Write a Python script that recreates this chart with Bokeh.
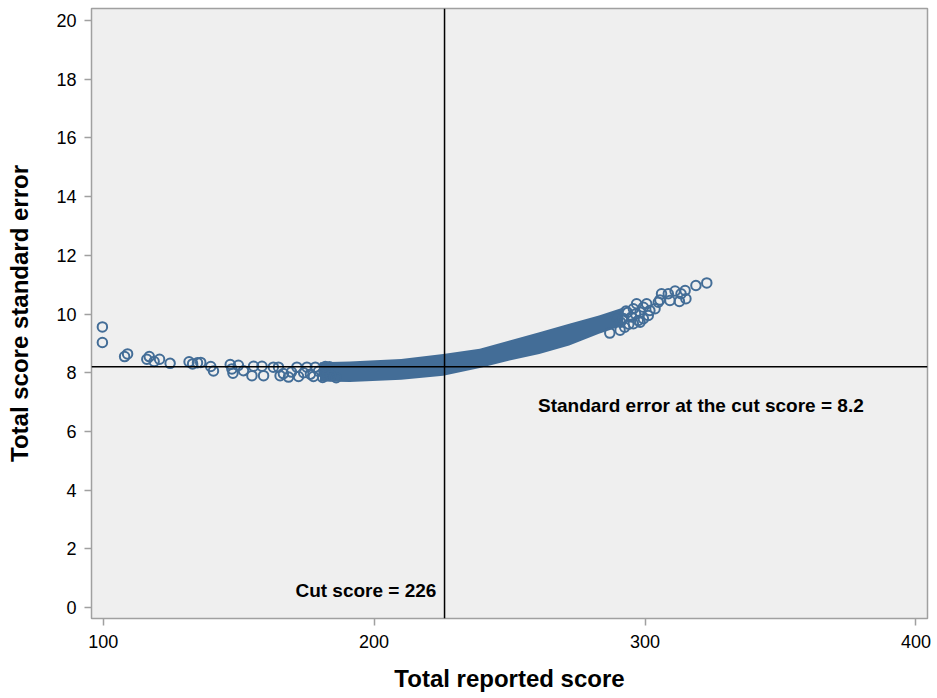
from bokeh.plotting import figure
from bokeh.models import Span, Range1d, FixedTicker, ColumnDataSource
from bokeh.core.properties import value
from bokeh.embed import file_html
from bokeh.resources import INLINE

# ---- data ----
# dense band of scores (edges of the solid region)
band_x = [180, 191, 210, 225.5, 239, 250, 261, 272, 283, 292]
band_top = [8.36, 8.38, 8.47, 8.64, 8.82, 9.10, 9.38, 9.67, 9.95, 10.22]
band_bottom = [7.70, 7.68, 7.76, 7.90, 8.16, 8.42, 8.64, 8.93, 9.33, 9.61]

# individually visible points (sparse tails)
pt_x = [99.7, 99.7, 107.9, 109.0, 116.1, 117.0, 118.8, 120.8, 124.7, 131.7,
        133.0, 134.8, 136.0, 139.7, 140.7, 146.9, 147.5, 147.9, 149.9, 151.8,
        155.5, 154.9, 158.6, 159.2, 162.8, 164.7, 165.3, 168.4, 171.5, 172.1,
        175.2, 177.6, 178.3, 181.0, 183.5, 186.0, 174.0, 176.5, 179.5, 181.5,
        169.5, 166.5, 182.0, 184.0,
        322.8, 318.8, 314.8, 313.3, 315.1, 312.7, 311.1, 308.6, 309.2, 305.5,
        304.9, 303.7, 301.8, 300.6, 299.4, 298.2, 301.2, 299.4, 297.5, 295.7,
        296.9, 298.2, 295.7, 306.1, 292.5, 293.5, 290.8, 289.5, 287.0,
        294.0, 295.0, 293.0, 291.0, 296.5, 292.0]
pt_y = [9.56, 9.03, 8.55, 8.64, 8.46, 8.55, 8.38, 8.46, 8.32, 8.37,
        8.30, 8.34, 8.35, 8.21, 8.06, 8.28, 8.13, 7.98, 8.25, 8.07,
        8.22, 7.90, 8.22, 7.90, 8.19, 8.19, 7.90, 7.85, 8.19, 7.87,
        8.19, 7.87, 8.19, 7.84, 8.20, 7.83, 8.00, 7.95, 8.05, 8.02,
        8.02, 7.97, 8.21, 7.90,
        11.06, 10.97, 10.80, 10.69, 10.52, 10.43, 10.78, 10.69, 10.46, 10.48,
        10.40, 10.18, 10.12, 10.35, 10.23, 10.06, 9.95, 9.84, 9.78, 10.18,
        10.35, 9.72, 9.67, 10.69, 9.55, 10.05, 9.45, 9.90, 9.35,
        9.65, 9.90, 10.10, 9.72, 10.00, 9.85]

cut_score = 226
cut_se = 8.2
x_ticks = [100, 200, 300, 400]
y_ticks = [0, 2, 4, 6, 8, 10, 12, 14, 16, 18, 20]

BLUE = "#436d97"
FONT = "Liberation Sans"

p = figure(width=933, height=693, frame_width=836, frame_height=610,
           output_backend="svg", toolbar_location=None,
           x_range=Range1d(95.68, 404.28), y_range=Range1d(-0.375, 20.41),
           min_border_left=91, min_border_right=6, min_border_top=8,
           min_border_bottom=75)

p.background_fill_color = "#efefef"
p.border_fill_color = "white"
p.outline_line_color = "#a0a0a0"
p.outline_line_width = 1.5
p.grid.visible = False

band = ColumnDataSource(dict(x=band_x, top=band_top, bottom=band_bottom))
p.varea(x="x", y1="bottom", y2="top", source=band, fill_color=BLUE)

pts = ColumnDataSource(dict(x=pt_x, y=pt_y))
p.scatter(x="x", y="y", source=pts, marker="circle", size=9.5,
          fill_color=None, line_color=BLUE, line_width=2)

p.add_layout(Span(location=cut_score, dimension="height", line_color="black", line_width=1.5))
p.add_layout(Span(location=cut_se, dimension="width", line_color="black", line_width=1.5))

p.text(x=[223], y=[0.58], text=["Cut score = 226"], text_align="right",
       text_baseline="middle", text_font=value(FONT), text_font_style="bold",
       text_font_size="19px", text_color="black")
p.text(x=[260.5], y=[6.88], text=["Standard error at the cut score = 8.2"],
       text_align="left", text_baseline="middle", text_font=value(FONT),
       text_font_style="bold", text_font_size="19px", text_color="black")

for ax in (p.xaxis[0], p.yaxis[0]):
    ax.axis_line_color = None
    ax.major_tick_line_color = "#a0a0a0"
    ax.major_tick_line_width = 1.5
    ax.major_tick_out = 7
    ax.major_tick_in = 0
    ax.minor_tick_line_color = None
    ax.major_label_text_font = FONT
    ax.major_label_text_font_size = "18px"
    ax.major_label_text_color = "black"
    ax.axis_label_text_font = FONT
    ax.axis_label_text_font_size = "24px"
    ax.axis_label_text_font_style = "bold"
    ax.axis_label_text_color = "black"

p.xaxis.ticker = FixedTicker(ticks=x_ticks)
p.yaxis.ticker = FixedTicker(ticks=y_ticks)
p.xaxis.axis_label = "Total reported score"
p.yaxis.axis_label = "Total score standard error"
p.xaxis.major_label_standoff = 9
p.xaxis.axis_label_standoff = 14
p.yaxis.major_label_standoff = 8
p.yaxis.axis_label_standoff = 20

open("out.html", "w").write(file_html(p, INLINE))
